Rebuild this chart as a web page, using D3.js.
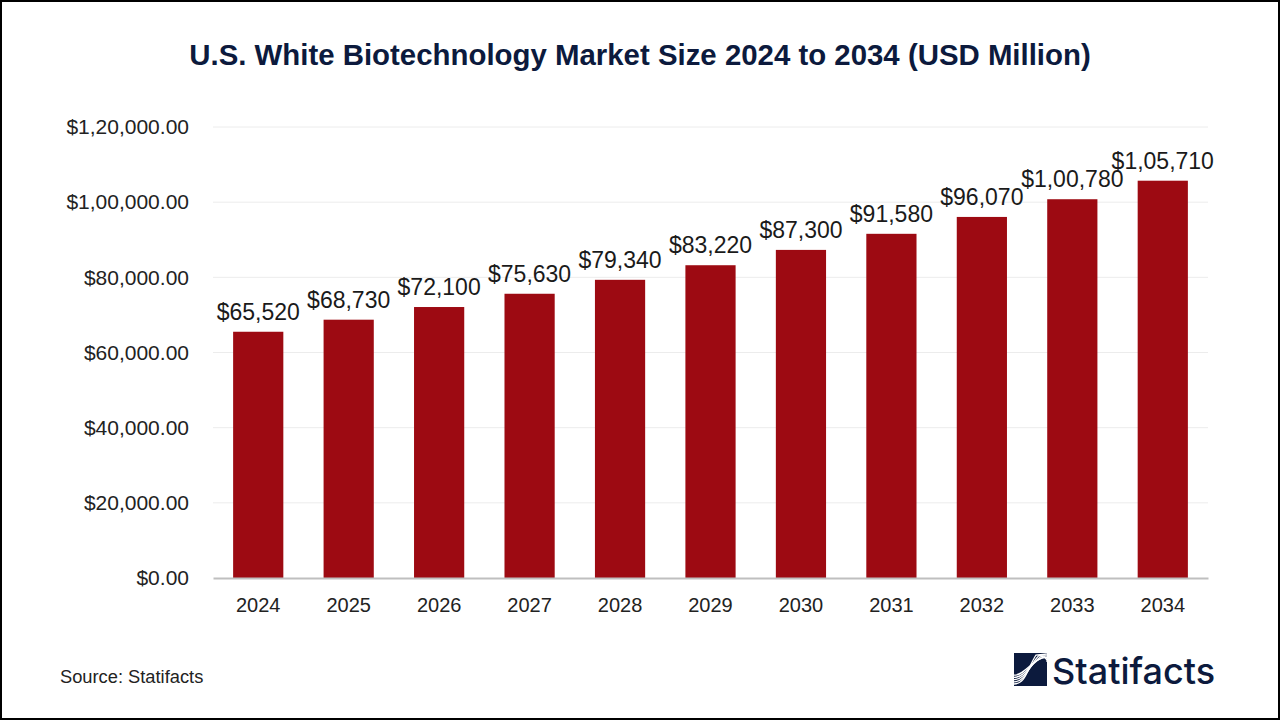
<!DOCTYPE html>
<html><head><meta charset="utf-8">
<script src="https://cdn.jsdelivr.net/npm/d3@7"></script>
<style>
html,body{margin:0;padding:0;background:#fff;}
svg{display:block;font-family:"Liberation Sans",Arial,sans-serif;}
</style></head>
<body>
<svg id="chart" width="1280" height="720"></svg>
<script>
const categories = ["2024","2025","2026","2027","2028","2029","2030","2031","2032","2033","2034"];
const values = [65520,68730,72100,75630,79340,83220,87300,91580,96070,100780,105710];
const valueLabels = ["$65,520","$68,730","$72,100","$75,630","$79,340","$83,220","$87,300","$91,580","$96,070","$1,00,780","$1,05,710"];
const yTicks = [0,20000,40000,60000,80000,100000,120000];
const yTickLabels = ["$0.00","$20,000.00","$40,000.00","$60,000.00","$80,000.00","$1,00,000.00","$1,20,000.00"];

const svg = d3.select("#chart");
svg.append("rect").attr("x",1).attr("y",1).attr("width",1278).attr("height",718)
  .attr("fill","#fff").attr("stroke","#000").attr("stroke-width",2);

svg.append("text").attr("x",640).attr("y",65).attr("text-anchor","middle")
  .attr("font-size",29.4).attr("font-weight","bold").attr("fill","#0c1a3d")
  .text("U.S. White Biotechnology Market Size 2024 to 2034 (USD Million)");

const x = d3.scaleBand().domain(categories).range([213,1208]).paddingInner(0.445).paddingOuter(0.2225);
const y = d3.scaleLinear().domain([0,120000]).range([578,127]);

const grid = svg.append("g");
grid.selectAll("line").data(yTicks.filter(d=>d>0)).join("line")
  .attr("x1",213).attr("x2",1208).attr("y1",d=>y(d)).attr("y2",d=>y(d))
  .attr("stroke","#ececec").attr("stroke-width",1);

const yAxis = d3.axisLeft(y).tickValues(yTicks).tickSize(0).tickPadding(0)
  .tickFormat((d,i)=>yTickLabels[i]);
const ya = svg.append("g").attr("transform","translate(189,0)").call(yAxis);
ya.select(".domain").remove();
ya.selectAll("text").attr("font-size",21).attr("fill","#222").attr("font-family","Liberation Sans, Arial, sans-serif");

svg.append("g").selectAll("rect").data(values).join("rect")
  .attr("x",(d,i)=>x(categories[i])).attr("width",x.bandwidth())
  .attr("y",d=>y(d)).attr("height",d=>y(0)-y(d)).attr("fill","#9d0a12");

svg.append("g").selectAll("text").data(values).join("text")
  .attr("x",(d,i)=>x(categories[i])+x.bandwidth()/2).attr("y",d=>y(d)-12)
  .attr("text-anchor","middle").attr("font-size",23).attr("fill","#1a1a1a")
  .text((d,i)=>valueLabels[i]);

const xAxis = d3.axisBottom(x).tickSize(0).tickPadding(20);
const xa = svg.append("g").attr("transform","translate(0,578)").call(xAxis);
xa.select(".domain").attr("stroke","#bfbfbf").attr("stroke-width",2);
xa.selectAll("text").attr("font-size",20).attr("fill","#222").attr("font-family","Liberation Sans, Arial, sans-serif");

svg.append("text").attr("x",60).attr("y",683).attr("font-size",18.3).attr("fill","#222").text("Source: Statifacts");

// logo
const logo = svg.append("g").attr("transform","translate(1014,653)");
logo.append("rect").attr("x",0).attr("y",0).attr("width",33).attr("height",33).attr("fill","#0c1a3d");
const waves = [0,1,2,3,4];
logo.selectAll("path").data(waves).join("path")
  .attr("d",k=>`M0 ${31-k*2.2} C ${12} ${31-k*2.2}, ${13+k*1.5} ${16-k*3}, ${22+k*2.8} ${2+k*0.6} L ${33} ${1+k*2}`)
  .attr("fill","none").attr("stroke","#fff").attr("stroke-width",1.3);
svg.append("text").attr("x",1052).attr("y",684).attr("font-size",36).attr("fill","#0c1a3d")
  .attr("font-family","Inter, 'Open Sans', sans-serif").attr("font-weight",500).text("Statifacts");
</script>
</body></html>
